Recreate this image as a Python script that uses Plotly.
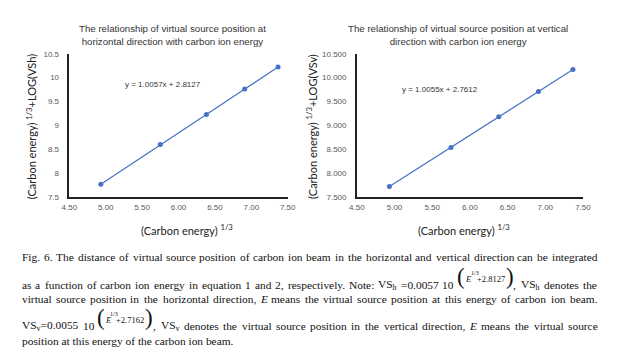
import re
import plotly.graph_objects as go

# ---- data ----
x_cuberoot_energy = [4.932, 5.749, 6.383, 6.910, 7.368]
y_horizontal = [7.77, 8.60, 9.23, 9.76, 10.22]
y_vertical = [7.72, 8.54, 9.18, 9.71, 10.17]
x_ticks = [4.5, 5.0, 5.5, 6.0, 6.5, 7.0, 7.5]
y_ticks = [7.5, 8.0, 8.5, 9.0, 9.5, 10.0, 10.5]
y_ticklabels_h = ["7.5", "8", "8.5", "9", "9.5", "10", "10.5"]
y_ticklabels_v = ["7.500", "8.000", "8.500", "9.000", "9.500", "10.000", "10.500"]

W, H = 626, 363
def px(x): return x / W
def py(y): return 1 - y / H

BLUE = "#4472C4"
fig = go.Figure()
fig.add_trace(go.Scatter(x=x_cuberoot_energy, y=y_horizontal, mode="lines+markers",
                         line=dict(color=BLUE, width=1.2), marker=dict(color=BLUE, size=5),
                         xaxis="x", yaxis="y", showlegend=False))
fig.add_trace(go.Scatter(x=x_cuberoot_energy, y=y_vertical, mode="lines+markers",
                         line=dict(color=BLUE, width=1.2), marker=dict(color=BLUE, size=5),
                         xaxis="x2", yaxis="y2", showlegend=False))

tickfont = dict(family="Liberation Sans", size=8, color="#595959")
def xax(dom, anchor):
    return dict(domain=dom, anchor=anchor, range=[4.5, 7.5], tickvals=x_ticks,
                ticktext=[f"{v:.2f}" for v in x_ticks], showgrid=False, zeroline=False,
                showline=True, linecolor="#222", linewidth=1.5, ticks="", tickfont=tickfont,
                ticklabelstandoff=2)
def yax(dom, anchor, labels):
    return dict(domain=dom, anchor=anchor, range=[7.5, 10.5], tickvals=y_ticks,
                ticktext=labels, showgrid=False, zeroline=False,
                showline=True, linecolor="#222", linewidth=1.5, ticks="", tickfont=tickfont,
                ticklabelstandoff=7)

ydom = [py(198), py(51)]
fig.update_layout(
    width=W, height=H, margin=dict(l=0, r=0, t=0, b=0),
    paper_bgcolor="white", plot_bgcolor="white",
    xaxis=xax([px(63), px(287)], "y"),
    yaxis=yax(ydom, "x", y_ticklabels_h),
    xaxis2=xax([px(358), px(590)], "y2"),
    yaxis2=yax(ydom, "x2", y_ticklabels_v),
)

ann = []
titlefont = dict(family="Liberation Sans", size=9.7, color="#333")
ann.append(dict(x=px(169), y=py(32), text="The relationship of virtual source position at<br>horizontal direction with carbon ion energy",
                font=titlefont))
ann.append(dict(x=px(462), y=py(32), text="The relationship of virtual source position at vertical<br>direction with carbon ion energy",
                font=titlefont))
eqfont = dict(family="Liberation Sans", size=8, color="#333")
ann.append(dict(x=px(159), y=py(83), text="y = 1.0057x + 2.8127", font=eqfont))
ann.append(dict(x=px(443), y=py(88), text="y = 1.0055x + 2.7612", font=eqfont))
axfont = dict(family="Lato", size=11, color="#222")
ann.append(dict(x=px(184), y=py(231), text="(Carbon energy) <sup>1/3</sup>", font=axfont))
ann.append(dict(x=px(468), y=py(231), text="(Carbon energy) <sup>1/3</sup>", font=axfont))
ann.append(dict(x=px(24), y=py(126), text="(Carbon energy) <sup>1/3</sup>+LOG(VSh)", textangle=-90, font=axfont))
ann.append(dict(x=px(312), y=py(126), text="(Carbon energy) <sup>1/3</sup>+LOG(VSv)", textangle=-90, font=axfont))

# ---- caption (Times metrics, justified word by word) ----
CS = 11.4
TW = {' ': 250, 'a': 444, 'b': 500, 'c': 444, 'd': 500, 'e': 444, 'f': 333, 'g': 500, 'h': 500,
      'i': 278, 'j': 278, 'k': 500, 'l': 278, 'm': 778, 'n': 500, 'o': 500, 'p': 500, 'q': 500,
      'r': 333, 's': 389, 't': 278, 'u': 500, 'v': 500, 'w': 722, 'x': 500, 'y': 500, 'z': 444,
      'A': 722, 'B': 667, 'C': 667, 'D': 722, 'E': 611, 'F': 556, 'G': 722, 'H': 722, 'I': 333,
      'J': 389, 'K': 722, 'L': 611, 'M': 889, 'N': 722, 'O': 722, 'P': 556, 'Q': 722, 'R': 667,
      'S': 556, 'T': 611, 'U': 722, 'V': 722, 'W': 944, 'X': 722, 'Y': 722, 'Z': 611,
      '.': 250, ',': 250, ':': 278, '=': 564, '(': 333, ')': 333, '+': 564, '-': 333}
def tw(html, size=CS):
    w = 0.0
    for part in re.split(r"(<sub>.*?</sub>|<sup>.*?</sup>)", html):
        scale = 0.7 if (part.startswith("<sub>") or part.startswith("<sup>")) else 1.0
        plain = re.sub(r"<.*?>", "", part)
        for ch in plain:
            w += TW.get(ch, 500) * scale
    return w / 1000 * size

cf = dict(family="Liberation Serif", size=CS, color="#111")
sf = dict(family="Liberation Serif", size=8.5, color="#111")
ff = dict(family="Liberation Serif", size=6, color="#111")
pf = dict(family="Liberation Serif", size=23, color="#111")
def txt(x, y, t, font=cf, xanchor="left"):
    ann.append(dict(x=px(x), y=py(y), text=t, font=font, xanchor=xanchor))
def justify(x0, x1, y, line):
    words = line.split(" ")
    widths = [tw(w) for w in words]
    gap = (x1 - x0 - sum(widths)) / max(len(words) - 1, 1)
    x = x0
    for w, wd in zip(words, widths):
        txt(x, y, w)
        x += wd + gap

justify(12, 602, 259, "Fig. 6. The distance of virtual source position of carbon ion beam in the horizontal and vertical direction can be integrated")
justify(12, 455, 288, "as a function of carbon ion energy in equation 1 and 2, respectively. Note: VS<sub>h</sub> =0.0057 10")
txt(459, 279, "(", pf)
txt(467, 282, "<i>E</i>", sf)
txt(473, 276, "1/3", ff)
txt(479, 282, "+2.8127", sf)
txt(509, 279, ")", pf)
justify(516, 602, 288, ", VS<sub>h</sub> denotes the")
justify(12, 602, 302, "virtual source position in the horizontal direction, <i>E</i> means the virtual source position at this energy of carbon ion beam.")
justify(12, 86, 330, "VS<sub>v</sub>=0.0055 10")
txt(89, 321, "(", pf)
txt(97, 324, "<i>E</i>", sf)
txt(103, 318, "1/3", ff)
txt(109, 324, "+2.7162", sf)
txt(139, 321, ")", pf)
justify(147, 602, 330, ", VS<sub>v</sub> denotes the virtual source position in the vertical direction, <i>E</i> means the virtual source")
txt(12, 346, "position at this energy of the carbon ion beam.")

for a in ann:
    a.setdefault("xref", "paper"); a.setdefault("yref", "paper")
    a.setdefault("showarrow", False)
    a.setdefault("xanchor", "center")
    a.setdefault("yanchor", "middle")
fig.update_layout(annotations=ann)
fig.write_html("out.html", config={"displayModeBar": False},
               post_script="document.body.style.margin='0';document.body.style.overflow='hidden';")
